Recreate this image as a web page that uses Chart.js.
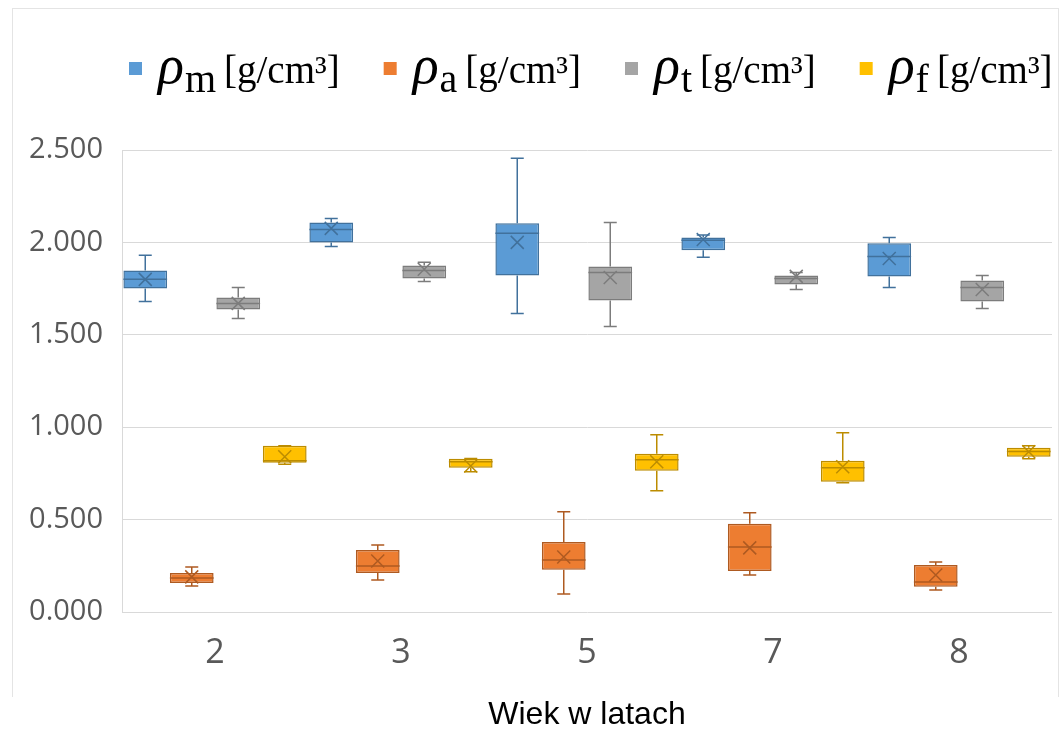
<!DOCTYPE html>
<html>
<head>
<meta charset="utf-8">
<script src="https://cdn.jsdelivr.net/npm/chart.js@4"></script>
<style>
  html, body { margin: 0; padding: 0; background: #fff; }
  #wrap { position: relative; width: 1061px; height: 731px; }
  #frame { position: absolute; left: 12px; top: 8px; width: 1045px; height: 688px;
           border: 1px solid #e4e4e4; border-bottom: none; }
  canvas { position: absolute; left: 0; top: 0; }
</style>
</head>
<body>
<div id="wrap">
  <div id="frame"></div>
  <canvas id="chart" width="1061" height="731"></canvas>
</div>
<script>
// age groups (years)
const ages = ['2', '3', '5', '7', '8'];

// each entry: [min, q1, median, q3, max, mean]
const rhoM = [
  [1.680, 1.751, 1.800, 1.848, 1.930, 1.800],
  [1.978, 2.000, 2.070, 2.108, 2.130, 2.076],
  [1.615, 1.821, 2.049, 2.103, 2.455, 2.000],
  [1.919, 1.957, 2.011, 2.027, 2.040, 2.016],
  [1.756, 1.816, 1.924, 1.995, 2.027, 1.913]
];
const rhoA = [
  [0.141, 0.157, 0.184, 0.211, 0.244, 0.190],
  [0.173, 0.211, 0.249, 0.336, 0.363, 0.276],
  [0.098, 0.228, 0.282, 0.379, 0.542, 0.298],
  [0.200, 0.222, 0.352, 0.477, 0.537, 0.347],
  [0.119, 0.136, 0.163, 0.255, 0.271, 0.200]
];
const rhoT = [
  [1.588, 1.637, 1.669, 1.702, 1.756, 1.670],
  [1.789, 1.805, 1.848, 1.875, 1.892, 1.855],
  [1.545, 1.686, 1.837, 1.870, 2.108, 1.810],
  [1.745, 1.772, 1.805, 1.821, 1.837, 1.816],
  [1.642, 1.680, 1.756, 1.794, 1.821, 1.745]
];
const rhoF = [
  [0.800, 0.808, 0.818, 0.900, 0.900, 0.840],
  [0.759, 0.780, 0.813, 0.829, 0.830, 0.790],
  [0.656, 0.764, 0.824, 0.856, 0.959, 0.813],
  [0.699, 0.705, 0.780, 0.818, 0.970, 0.786],
  [0.829, 0.840, 0.868, 0.889, 0.900, 0.867]
];

const yTicks = [0, 0.5, 1, 1.5, 2, 2.5];

// legend parts: subscript letter of rho
const seriesSubs = ['m', 'a', 't', 'f'];
const unitText = '[g/cm³]';

const fills   = ['#5B9BD5', '#ED7D31', '#A5A5A5', '#FFC000'];
const strokes = ['#41719C', '#AE5A21', '#7C7C7C', '#BC8C00'];

const allStats = [rhoM, rhoA, rhoT, rhoF];

const datasets = allStats.map((stats, i) => ({
  label: 'ρ' + seriesSubs[i] + ' ' + unitText,
  data: stats.map(s => [s[1], s[3]]),
  stats: stats,
  backgroundColor: fills[i],
  borderColor: strokes[i],
  borderWidth: 1.5,
  borderSkipped: false,
  categoryPercentage: 1.0,
  barPercentage: 0.94
}));

// whiskers, median line and mean "x"
const boxExtras = {
  id: 'boxExtras',
  afterDatasetsDraw(chart) {
    const ctx = chart.ctx;
    const y = chart.scales.y;
    chart.data.datasets.forEach((ds, i) => {
      const meta = chart.getDatasetMeta(i);
      meta.data.forEach((bar, j) => {
        const [mn, q1, md, q3, mx, mean] = ds.stats[j];
        const x = bar.x;
        const half = bar.width / 2;
        const cap = 6.5;
        ctx.save();
        ctx.strokeStyle = ds.borderColor;
        ctx.lineWidth = 1.5;
        ctx.beginPath();
        // whiskers
        ctx.moveTo(x, y.getPixelForValue(q3)); ctx.lineTo(x, y.getPixelForValue(mx));
        ctx.moveTo(x - cap, y.getPixelForValue(mx)); ctx.lineTo(x + cap, y.getPixelForValue(mx));
        ctx.moveTo(x, y.getPixelForValue(q1)); ctx.lineTo(x, y.getPixelForValue(mn));
        ctx.moveTo(x - cap, y.getPixelForValue(mn)); ctx.lineTo(x + cap, y.getPixelForValue(mn));
        // median
        ctx.moveTo(x - half, y.getPixelForValue(md)); ctx.lineTo(x + half, y.getPixelForValue(md));
        ctx.stroke();
        // mean marker
        const my = y.getPixelForValue(mean);
        const m = 6.5;
        ctx.beginPath();
        ctx.moveTo(x - m, my - m); ctx.lineTo(x + m, my + m);
        ctx.moveTo(x + m, my - m); ctx.lineTo(x - m, my + m);
        ctx.stroke();
        ctx.restore();
      });
    });
  }
};

// legend with rho + subscript, drawn as text on the canvas
const rhoLegend = {
  id: 'rhoLegend',
  afterDraw(chart) {
    const ctx = chart.ctx;
    let x = 129;
    const base = 83;
    ctx.save();
    ctx.textBaseline = 'alphabetic';
    ctx.textAlign = 'left';
    seriesSubs.forEach((sub, i) => {
      ctx.fillStyle = fills[i];
      ctx.fillRect(x, 62, 13, 13);
      x += 13 + 16;
      ctx.fillStyle = '#000';
      ctx.font = 'italic 54px "Liberation Serif"';
      ctx.fillText('ρ', x, base);
      x += ctx.measureText('ρ').width + 1;
      ctx.font = '40px "Liberation Serif"';
      ctx.fillText(sub, x, base + 9);
      x += ctx.measureText(sub).width + 8;
      ctx.font = '39px "Liberation Serif"';
      ctx.fillText(unitText, x, base);
      x += ctx.measureText(unitText).width + 44;
    });
    ctx.restore();
  }
};

new Chart(document.getElementById('chart'), {
  type: 'bar',
  data: { labels: ages, datasets: datasets },
  options: {
    responsive: false,
    animation: false,
    layout: { padding: { top: 150, left: 12, right: 9, bottom: 0 } },
    plugins: { legend: { display: false }, tooltip: { enabled: false } },
    scales: {
      x: {
        grid: { display: false, drawTicks: false },
        border: { display: false },
        ticks: { padding: 21, color: '#595959', font: { family: '"Open Sans"', size: 34 } },
        title: {
          display: true, text: 'Wiek w latach', color: '#000',
          padding: 0, font: { family: '"Liberation Sans"', size: 32, lineHeight: 1.0 }
        },
        afterFit(scale) { scale.height = 119; }
      },
      y: {
        min: 0, max: 2.5,
        afterBuildTicks(scale) { scale.ticks = yTicks.map(v => ({ value: v })); },
        grid: { color: '#d9d9d9', lineWidth: 1, drawTicks: false },
        border: { display: true, color: '#d9d9d9' },
        ticks: {
          padding: 19, color: '#595959',
          font: { family: '"Open Sans"', size: 29 },
          callback: v => Number(v).toFixed(3)
        },
        afterFit(scale) { scale.width = 110; }
      }
    }
  },
  plugins: [boxExtras, rhoLegend]
});
</script>
</body>
</html>
